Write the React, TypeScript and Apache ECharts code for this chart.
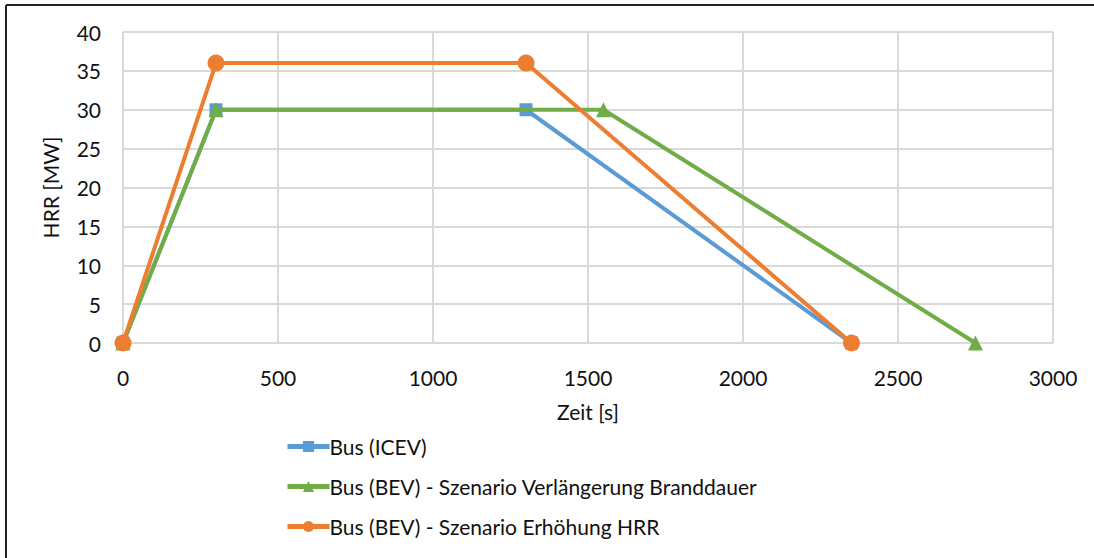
import React, { useEffect, useRef } from "react";
import * as echarts from "echarts";

const seriesNames = [
  "Bus (ICEV)",
  "Bus (BEV) - Szenario Verlängerung Branddauer",
  "Bus (BEV) - Szenario Erhöhung HRR",
];
const icevTime = [0, 300, 1300, 2350];
const icevHrr = [0, 30, 30, 0];
const bevLongTime = [0, 300, 1550, 2750];
const bevLongHrr = [0, 30, 30, 0];
const bevHighTime = [0, 300, 1300, 2350];
const bevHighHrr = [0, 36, 36, 0];

const colors = ["#5B9BD5", "#70AD47", "#ED7D31"];
const symbols = ["rect", "triangle", "circle"];
const symbolSizes = [13, 15, 17];

export default function App() {
  const ref = useRef<HTMLDivElement>(null);
  useEffect(() => {
    const chart = echarts.init(ref.current!, null, { renderer: "svg" });
    const font = "Lato, 'Open Sans', sans-serif";
    const txt = "#111111";
    const pairs = [
      [icevTime, icevHrr],
      [bevLongTime, bevLongHrr],
      [bevHighTime, bevHighHrr],
    ];
    chart.setOption({
      animation: false,
      backgroundColor: "#ffffff",
      textStyle: { fontFamily: font },
      grid: { left: 123, right: 1094 - 1053, top: 32, bottom: 558 - 343, containLabel: false },
      xAxis: {
        type: "value",
        min: 0,
        max: 3000,
        interval: 500,
        name: "Zeit [s]",
        nameLocation: "middle",
        nameGap: 58,
        nameTextStyle: { fontSize: 21, color: txt, fontFamily: font },
        axisLine: { show: false },
        axisTick: { show: false },
        axisLabel: { fontSize: 21, color: txt, margin: 24, fontFamily: font, formatter: (v: number) => String(v) },
        splitLine: { show: true, lineStyle: { color: "#d9d9d9", width: 2 } },
      },
      yAxis: {
        type: "value",
        min: 0,
        max: 40,
        interval: 5,
        name: "HRR [MW]",
        nameLocation: "middle",
        nameGap: 62,
        nameTextStyle: { fontSize: 21, color: txt, fontFamily: font },
        axisLine: { show: false },
        axisTick: { show: false },
        axisLabel: { fontSize: 21, color: txt, margin: 22, fontFamily: font },
        splitLine: { show: true, lineStyle: { color: "#d9d9d9", width: 2 } },
      },
      legend: {
        orient: "vertical",
        left: 285,
        top: 436,
        padding: 0,
        itemGap: 19,
        itemWidth: 42,
        itemHeight: 14,
        lineStyle: { width: 5 },
        textStyle: { fontSize: 21, color: txt, fontFamily: font, padding: [0, 0, 0, -5] },
        data: seriesNames,
      },
      graphic: [
        {
          type: "line",
          shape: { x1: 6, y1: 5, x2: 1094, y2: 5 },
          style: { stroke: "#222", lineWidth: 2 },
          silent: true,
        },
        {
          type: "line",
          shape: { x1: 6, y1: 5, x2: 6, y2: 558 },
          style: { stroke: "#222", lineWidth: 2 },
          silent: true,
        },
      ],
      series: pairs.map((p, i) => ({
        name: seriesNames[i],
        type: "line",
        data: p[0].map((t, j) => [t, p[1][j]]),
        symbol: symbols[i],
        symbolSize: symbolSizes[i],
        showAllSymbol: true,
        lineStyle: { color: colors[i], width: 4 },
        itemStyle: { color: colors[i] },
        z: 2 + i,
      })),
    });
    return () => chart.dispose();
  }, []);
  return (
    <div
      ref={ref}
      style={{ position: "absolute", left: 0, top: 0, width: 1094, height: 558 }}
    />
  );
}
